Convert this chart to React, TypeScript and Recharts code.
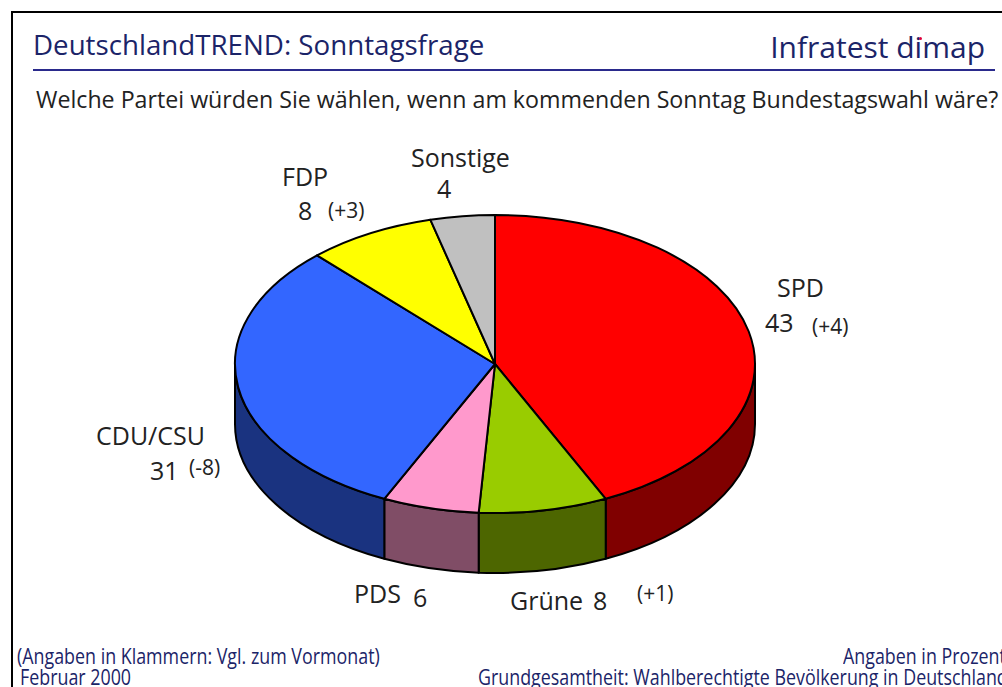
import React from 'react';
import { PieChart, Pie, Cell } from 'recharts';

// Sonntagsfrage, Februar 2000
const parties = ['SPD', 'Grüne', 'PDS', 'CDU/CSU', 'FDP', 'Sonstige'];
const shares = [43, 8, 6, 31, 8, 4];
const changes = ['(+4)', '(+1)', '', '(-8)', '(+3)', ''];

const topColors = ['#ff0000', '#99cc00', '#ff99cc', '#3366ff', '#ffff00', '#c0c0c0'];
const sideColors = ['#800000', '#4d6600', '#804d66', '#1a3380', '#808000', '#606060'];

const data = parties.map((name, i) => ({ name, value: shares[i], change: changes[i] }));

const SQUASH = 149 / 260;
const DEPTH = 60;
const RAD = Math.PI / 180;
const NAVY = '#1b2468';
const TEXT = '#222';

const pt = (cx: number, cy: number, r: number, a: number, dy = 0) =>
  `${cx + r * Math.cos(a * RAD)},${cy - r * SQUASH * Math.sin(a * RAD) + dy}`;

const TopFace = (props: any) => {
  const { cx, cy, outerRadius: r, startAngle, endAngle, fill } = props;
  const a1 = Math.max(startAngle, endAngle);
  const a2 = Math.min(startAngle, endAngle);
  const large = a1 - a2 > 180 ? 1 : 0;
  const d = `M${cx},${cy} L${pt(cx, cy, r, a1)} A${r},${r * SQUASH} 0 ${large} 1 ${pt(cx, cy, r, a2)} Z`;
  return <path d={d} fill={fill} stroke="#000" strokeWidth={2} strokeLinejoin="round" />;
};

const SideWall = (props: any) => {
  const { cx, cy, outerRadius: r, startAngle, endAngle, fill } = props;
  const a1 = Math.max(startAngle, endAngle);
  const a2 = Math.min(startAngle, endAngle);
  const hi = Math.min(a1, 0);
  const lo = Math.max(a2, -180);
  if (hi <= lo) return <g />;
  const ry = r * SQUASH;
  const d =
    `M${pt(cx, cy, r, hi)} A${r},${ry} 0 0 1 ${pt(cx, cy, r, lo)} ` +
    `L${pt(cx, cy, r, lo, DEPTH)} A${r},${ry} 0 0 0 ${pt(cx, cy, r, hi, DEPTH)} Z`;
  return <path d={d} fill={fill} stroke="#000" strokeWidth={2} strokeLinejoin="round" />;
};

// label placement (name line, value line, change in brackets)
const labelLayout = [
  { nx: 777, ny: 297, vx: 765, vy: 332, cx: 812, cy: 334 },
  { nx: 510, ny: 610, vx: 593, vy: 610, cx: 637, cy: 601 },
  { nx: 354, ny: 603, vx: 413, vy: 607, cx: 0, cy: 0 },
  { nx: 96, ny: 445, vx: 150, vy: 480, cx: 189, cy: 475 },
  { nx: 282, ny: 186, vx: 298, vy: 220, cx: 328, cy: 218 },
  { nx: 411, ny: 167, vx: 437, vy: 198, cx: 0, cy: 0 },
];

const Labels = () => (
  <svg width={1002} height={687} style={{ position: 'absolute', left: 0, top: 0 }}>
    {data.map((d, i) => {
      const l = labelLayout[i];
      return (
        <g key={d.name} fill={TEXT} fontFamily="'Open Sans', sans-serif">
          <text x={l.nx} y={l.ny} fontSize={25}>{d.name}</text>
          <text x={l.vx} y={l.vy} fontSize={25}>{d.value}</text>
          {d.change && <text x={l.cx} y={l.cy} fontSize={21}>{d.change}</text>}
        </g>
      );
    })}
  </svg>
);

const foot = {
  position: 'absolute' as const,
  fontSize: 21,
  color: NAVY,
  whiteSpace: 'nowrap' as const,
  transform: 'scaleX(0.85)',
  transformOrigin: 'left top',
  lineHeight: '20px',
};

export default function App() {
  return (
    <div style={{ position: 'fixed', left: 0, top: 0, width: 1002, height: 687, background: '#fff', overflow: 'hidden', fontFamily: "'Open Sans', sans-serif" }}>
      <div style={{ position: 'absolute', left: 11, top: 11, width: 1100, height: 800, border: '2px solid #000' }} />

      <div style={{ position: 'absolute', left: 33, top: 25, fontSize: 27.7, color: NAVY, whiteSpace: 'nowrap' }}>
        DeutschlandTREND: Sonntagsfrage
      </div>
      <div style={{ position: 'absolute', right: 17, top: 26, fontSize: 30, color: NAVY, whiteSpace: 'nowrap' }}>
        Infratest dimap
      </div>
      <div style={{ position: 'absolute', left: 919, top: 37, width: 3, height: 3, borderRadius: 2, background: '#e0003c' }} />
      <div style={{ position: 'absolute', left: 33, top: 69, width: 962, height: 2, background: '#2a2a8c' }} />
      <div style={{ position: 'absolute', left: 36, top: 83, fontSize: 23.2, color: TEXT, whiteSpace: 'nowrap' }}>
        Welche Partei würden Sie wählen, wenn am kommenden Sonntag Bundestagswahl wäre?
      </div>

      <div style={{ position: 'absolute', left: 0, top: 0 }}>
        <PieChart width={1002} height={687} margin={{ top: 0, right: 0, bottom: 0, left: 0 }}>
          <Pie
            data={data}
            dataKey="value"
            nameKey="name"
            cx={495}
            cy={364}
            outerRadius={260}
            startAngle={90}
            endAngle={-270}
            isAnimationActive={false}
            shape={SideWall}
            activeShape={SideWall}
            inactiveShape={SideWall}
            {...({} as any)}
          >
            {data.map((d, i) => <Cell key={d.name} fill={sideColors[i]} />)}
          </Pie>
          <Pie
            data={data}
            dataKey="value"
            nameKey="name"
            cx={495}
            cy={364}
            outerRadius={260}
            startAngle={90}
            endAngle={-270}
            isAnimationActive={false}
            shape={TopFace}
            activeShape={TopFace}
            inactiveShape={TopFace}
            {...({} as any)}
          >
            {data.map((d, i) => <Cell key={d.name} fill={topColors[i]} />)}
          </Pie>
        </PieChart>
      </div>

      <Labels />

      <div style={{ ...foot, left: 17, top: 646 }}>(Angaben in Klammern: Vgl. zum Vormonat)</div>
      <div style={{ ...foot, left: 20, top: 667 }}>Februar 2000</div>
      <div style={{ ...foot, left: 843, top: 646 }}>Angaben in Prozent</div>
      <div style={{ ...foot, left: 478, top: 667 }}>Grundgesamtheit: Wahlberechtigte Bevölkerung in Deutschland</div>
    </div>
  );
}
